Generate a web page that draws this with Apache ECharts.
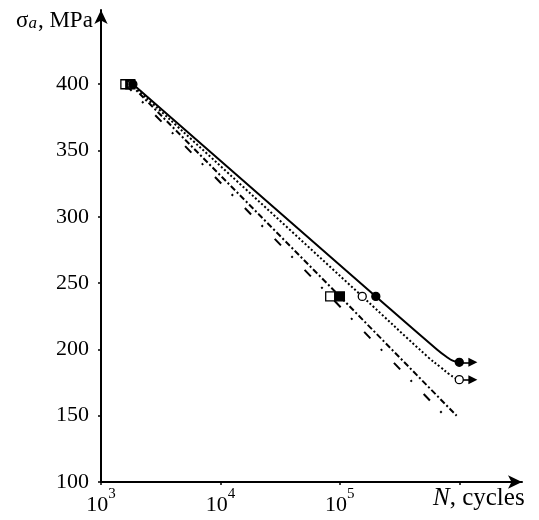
<!DOCTYPE html>
<html><head><meta charset="utf-8">
<script src="https://cdn.jsdelivr.net/npm/echarts@6/dist/echarts.min.js"></script>
<style>html,body{margin:0;padding:0;background:#fff}#c{width:539px;height:520px}</style>
</head><body><div id="c"></div>
<script>
// ---- axis ticks / labels ----
const xTickValues = [1e3, 1e4, 1e5, 1e6];
const xLabelValues = [1e3, 1e4, 1e5];
const yTickValues = [100, 150, 200, 250, 300, 350, 400];

// ---- series 1: solid line, filled circles ----
const solidCurveN = [1850, 2.0e5, 6.5e5, 7.8e5, 8.8e5, 1.0e6];
const solidCurveS = [400, 240, 200, 194.5, 191.5, 190.3];
const solidPtsN = [1850, 2.0e5, 1.0e6];
const solidPtsS = [400, 240, 190.3];
const solidRunoutN = [1.0e6, 1.3e6];
const solidRunoutS = [190.3, 190.3];

// ---- series 2: dotted line, open circles ----
const dotCurveN = [1800, 1.54e5, 5.5e5, 7.0e5, 8.2e5, 9.2e5, 1.0e6];
const dotCurveS = [400, 240, 194, 186.5, 181.5, 178.6, 177.2];
const dotPtsN = [1800, 1.54e5, 1.0e6];
const dotPtsS = [400, 240, 177.2];
const dotRunoutN = [1.0e6, 1.3e6];
const dotRunoutS = [177.2, 177.2];

// ---- series 3: dash-dot line, filled squares ----
const ddCurveN = [1760, 1.0e5, 9.5e5];
const ddCurveS = [400, 240, 150];
const ddPtsN = [1760, 1.0e5];
const ddPtsS = [400, 240];

// ---- series 4: long dash-dot line, open squares ----
const ldCurveN = [1600, 8.3e4, 7.9e5];
const ldCurveS = [400, 240, 148];
const ldPtsN = [1600, 8.3e4];
const ldPtsS = [400, 240];

const zip = (a, b) => a.map((v, i) => [v, b[i]]);
const FONT = 'Liberation Serif';

function lineSeries(n, s, dash, smooth, width) {
  return {
    type: 'line', data: zip(n, s), symbol: 'none', smooth: smooth, z: 2,
    lineStyle: { color: '#000', width: width, type: dash, cap: 'butt' },
    silent: true
  };
}
function runout(n, s) {
  return {
    type: 'line', data: zip(n, s), symbol: 'none', z: 2, silent: true,
    lineStyle: { color: '#000', width: 0 },
    markLine: {
      silent: true, symbol: ['none', 'triangle'], symbolSize: [9, 9],
      label: { show: false },
      lineStyle: { color: '#000', width: 1.6, type: 'solid' },
      data: [[{ coord: [n[0], s[0]] }, { coord: [n[1], s[1]] }]]
    }
  };
}
function pts(n, s, symbol, filled, size) {
  return {
    type: 'scatter', data: zip(n, s), symbol: symbol, symbolSize: size, z: 5, silent: true,
    itemStyle: { color: filled ? '#000' : '#fff', borderColor: '#000', borderWidth: 1.3, opacity: 1 }
  };
}

const chart = echarts.init(document.getElementById('c'));
chart.setOption({
  animation: false,
  backgroundColor: '#fff',
  grid: { left: 101, right: 17, top: 10, bottom: 38, containLabel: false },
  xAxis: {
    type: 'log', logBase: 10, min: 1000, max: 3.35e6,
    axisLine: { onZero: false, symbol: ['none', 'arrow'], symbolSize: [10, 14], lineStyle: { color: '#000', width: 2 } },
    axisTick: { show: true, length: 3, customValues: xTickValues, lineStyle: { color: '#000', width: 1.5 } },
    axisLabel: {
      customValues: xLabelValues, margin: 5,
      formatter: v => '{b|10}{s|' + Math.round(Math.log10(v)) + '}',
      rich: {
        b: { fontFamily: FONT, fontSize: 22, color: '#000', lineHeight: 29, verticalAlign: 'bottom' },
        s: { fontFamily: FONT, fontSize: 15, color: '#000', lineHeight: 15, verticalAlign: 'top' }
      }
    },
    splitLine: { show: false }, minorTick: { show: false }
  },
  yAxis: {
    type: 'value', min: 100, max: 456, interval: 50,
    axisLine: { onZero: false, symbol: ['none', 'arrow'], symbolSize: [10, 14], lineStyle: { color: '#000', width: 2 } },
    axisTick: { show: true, length: 3, customValues: yTickValues, lineStyle: { color: '#000', width: 1.5 } },
    axisLabel: { customValues: yTickValues, margin: 12, fontFamily: FONT, fontSize: 22, color: '#000' },
    splitLine: { show: false }
  },
  graphic: [
    {
      type: 'text', left: 16, top: 9, silent: true,
      style: {
        text: '{s|σ}{i|a}{s|, MPa}',
        rich: {
          s: { fontFamily: FONT, fontSize: 23, fill: '#000', lineHeight: 28, verticalAlign: 'bottom' },
          i: { fontFamily: FONT, fontSize: 17, fontStyle: 'italic', fill: '#000', lineHeight: 16, verticalAlign: 'bottom', padding: [0, 1, 0, 0] }
        }
      }
    },
    {
      type: 'text', left: 433, top: 486, silent: true,
      style: {
        text: '{i|N}{r|, cycles}',
        rich: {
          i: { fontFamily: FONT, fontSize: 25, fontStyle: 'italic', fill: '#000' },
          r: { fontFamily: FONT, fontSize: 25, fill: '#000' }
        }
      }
    }
  ],
  series: [
    lineSeries(ldCurveN, ldCurveS, [9, 15, 2, 17], false, 2),
    lineSeries(ddCurveN, ddCurveS, [6, 2.5, 2, 2.5], false, 2),
    lineSeries(dotCurveN, dotCurveS, [2, 2.2], 0.4, 2),
    lineSeries(solidCurveN, solidCurveS, 'solid', 0.4, 2),
    runout(solidRunoutN, solidRunoutS),
    runout(dotRunoutN, dotRunoutS),
    pts(ldPtsN, ldPtsS, 'rect', false, 9),
    pts(ddPtsN, ddPtsS, 'rect', true, 9),
    pts(dotPtsN, dotPtsS, 'circle', false, 8),
    pts(solidPtsN, solidPtsS, 'circle', true, 8)
  ]
});
</script></body></html>
